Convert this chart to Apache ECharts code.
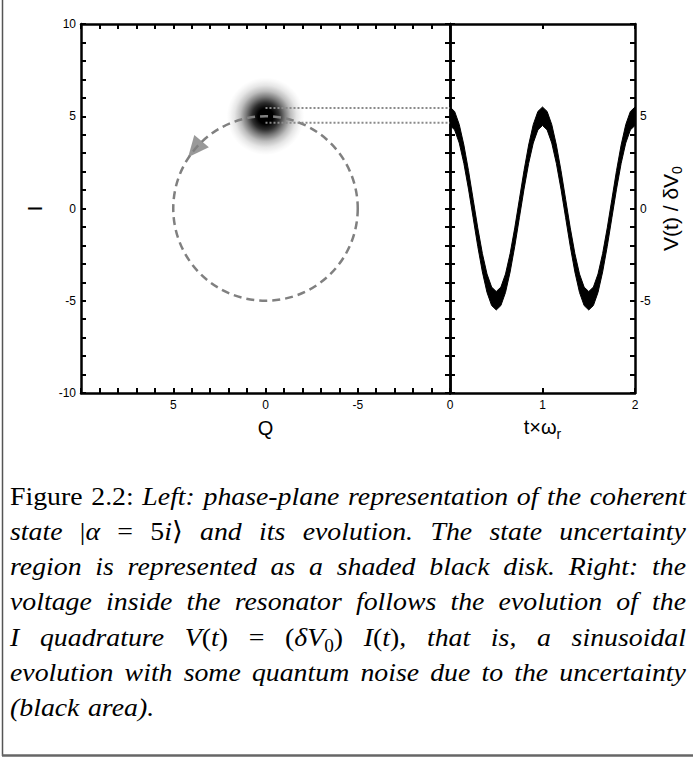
<!DOCTYPE html>
<html>
<head>
<meta charset="utf-8">
<title>Coherent state: phase plane and voltage</title>
<script src="https://cdn.jsdelivr.net/npm/echarts@6/dist/echarts.min.js"></script>
<style>
  html, body { margin: 0; padding: 0; background: #fff; }
  #chart { width: 693px; height: 757px; }
</style>
</head>
<body>
<div id="chart"></div>
<script>
// ---- Phase plane (left panel) ----
const qRange = [-10, 10];
const iRange = [-10, 10];
// Uncertainty disk of the coherent state |alpha = 5i>: [Q, I, halo radius]
const stateDisk = [0, 5, 2.1];
// Dashed orbit followed by the state: [Q centre, I centre, radius]
const orbit = [0, 0, 5];
// Arrow head on the orbit (Q, I)
const arrowPoint = [3.83, 3.22];
// Dotted guides at the upper and lower edges of the disk, running to the voltage panel
const guideLevels = [5.45, 4.65];
const guideQ = [0, -10];

// ---- Voltage trace (right panel) ----
const tRange = [0, 2];
const tValues = [0, 0.05, 0.1, 0.15, 0.2, 0.25, 0.3, 0.35, 0.4, 0.45, 0.5,
  0.55, 0.6, 0.65, 0.7, 0.75, 0.8, 0.85, 0.9, 0.95, 1,
  1.05, 1.1, 1.15, 1.2, 1.25, 1.3, 1.35, 1.4, 1.45, 1.5,
  1.55, 1.6, 1.65, 1.7, 1.75, 1.8, 1.85, 1.9, 1.95, 2];
// Upper and lower edges of the noisy trace V(t)/dV0
const vUpper = [5.5, 5.26, 4.55, 3.44, 2.05, 0.5, -1.05, -2.44, -3.55, -4.26, -4.5,
  -4.26, -3.55, -2.44, -1.05, 0.5, 2.05, 3.44, 4.55, 5.26, 5.5,
  5.26, 4.55, 3.44, 2.05, 0.5, -1.05, -2.44, -3.55, -4.26, -4.5,
  -4.26, -3.55, -2.44, -1.05, 0.5, 2.05, 3.44, 4.55, 5.26, 5.5];
const vLower = [4.5, 4.26, 3.55, 2.44, 1.05, -0.5, -2.05, -3.44, -4.55, -5.26, -5.5,
  -5.26, -4.55, -3.44, -2.05, -0.5, 1.05, 2.44, 3.55, 4.26, 4.5,
  4.26, 3.55, 2.44, 1.05, -0.5, -2.05, -3.44, -4.55, -5.26, -5.5,
  -5.26, -4.55, -3.44, -2.05, -0.5, 1.05, 2.44, 3.55, 4.26, 4.5];

// ---- Caption ----
// {r:...} upright, {s:...} upright subscript, everything else italic
const captionLines = [
  '{r:Figure} {r:2.2:} Left: phase-plane representation of the coherent',
  'state {r:|}α {r:=} {r:5}i{r:⟩} and its evolution. The state uncertainty',
  'region is represented as a shaded black disk. Right: the',
  'voltage inside the resonator follows the evolution of the',
  'I quadrature V{r:(}t{r:)} {r:=} {r:(}δV{s:0}{r:)} I{r:(}t{r:)}, that is, a sinusoidal',
  'evolution with some quantum noise due to the uncertainty',
  '(black area).'
];

const sans = "'Liberation Sans', Arial, Helvetica, sans-serif";
const serif = "'Liberation Serif', 'DejaVu Serif', serif";
const captionSize = 26;
const captionStretch = 1.07;   // widen the serif glyphs a little
const captionLeft = 10;
const captionRight = 686;
const captionBaseline = 505;
const captionLead = 35.2;

const measureCtx = document.createElement('canvas').getContext('2d');
function captionFont(kind) {
  if (kind === 'r') return captionSize + 'px ' + serif;
  if (kind === 's') return Math.round(captionSize * 0.7) + 'px ' + serif;
  return 'italic ' + captionSize + 'px ' + serif;
}
function parseWord(word) {
  const segs = [];
  const re = /\{([rs]):([^}]*)\}|([^{]+)/g;
  let m;
  while ((m = re.exec(word))) {
    if (m[1]) segs.push({ kind: m[1], text: m[2] });
    else segs.push({ kind: 'i', text: m[3] });
  }
  segs.forEach(function (s) {
    measureCtx.font = captionFont(s.kind);
    s.w = measureCtx.measureText(s.text).width * captionStretch;
  });
  return segs;
}

// Justified caption laid out word by word
const captionGraphics = [];
captionLines.forEach(function (line, li) {
  const words = line.split(' ').map(parseWord);
  const widths = words.map(function (ws) { return ws.reduce(function (a, s) { return a + s.w; }, 0); });
  const total = widths.reduce(function (a, b) { return a + b; }, 0);
  const isLast = li === captionLines.length - 1;
  measureCtx.font = captionFont('i');
  const gap = isLast ? measureCtx.measureText(' ').width * 1.3
    : (captionRight - captionLeft - total) / (words.length - 1);
  const base = captionBaseline + li * captionLead;
  let x = captionLeft;
  words.forEach(function (segs) {
    segs.forEach(function (s) {
      const sub = s.kind === 's';
      const size = sub ? captionSize * 0.7 : captionSize;
      captionGraphics.push({
        type: 'text',
        x: x,
        y: base + (sub ? captionSize * 0.22 : 0) - size * 0.34,
        scaleX: captionStretch,
        silent: true,
        style: {
          text: s.text, font: captionFont(s.kind), fill: '#000',
          align: 'left', verticalAlign: 'middle',
          textAlign: 'left', textVerticalAlign: 'middle'
        }
      });
      x += s.w;
    });
    x += gap;
  });
});

// Figure frame (left and bottom rules)
const frameGraphics = [
  { type: 'line', silent: true, shape: { x1: 2.5, y1: 0, x2: 2.5, y2: 756 },
    style: { stroke: '#555', lineWidth: 1.5 } },
  { type: 'line', silent: true, shape: { x1: 2, y1: 755.5, x2: 693, y2: 755.5 },
    style: { stroke: '#666', lineWidth: 2.5 } }
];

// ---- Axes ----
const axisLineStyle = { show: true, onZero: false, lineStyle: { color: '#000', width: 2.5 } };
const tickStyle = { show: true, inside: true, length: 5, lineStyle: { color: '#000', width: 2 } };
const minorStyle = { show: true, splitNumber: 5, length: 5, lineStyle: { color: '#000', width: 2 } };
const labelStyle = { show: true, color: '#000', fontSize: 12, fontFamily: sans, margin: 6 };
const noLabel = { show: false };

function valueAxis(extra) {
  return Object.assign({
    type: 'value',
    axisLine: axisLineStyle,
    axisTick: tickStyle,
    splitLine: { show: false },
    axisLabel: noLabel
  }, extra);
}

const subRich = {
  a: { fontSize: 20, fontFamily: sans, color: '#000', lineHeight: 24, verticalAlign: 'top' },
  sub: { fontSize: 14, fontFamily: sans, color: '#000', lineHeight: 14, padding: [13, 0, 0, 0], verticalAlign: 'bottom' }
};
const subRichV = {
  a: { fontSize: 21, fontFamily: sans, color: '#000', lineHeight: 24, verticalAlign: 'top' },
  sub: { fontSize: 14, fontFamily: sans, color: '#000', lineHeight: 14, padding: [13, 0, 0, 0], verticalAlign: 'bottom' }
};

const xAxes = [
  valueAxis({ gridIndex: 0, position: 'bottom', min: qRange[0], max: qRange[1], interval: 5, inverse: true,
    minorTick: minorStyle,
    axisLabel: Object.assign({}, labelStyle, { showMinLabel: false, showMaxLabel: false }),
    name: 'Q', nameLocation: 'middle', nameGap: 25,
    nameTextStyle: { fontSize: 20, fontFamily: sans, color: '#000' } }),
  valueAxis({ gridIndex: 0, position: 'top', min: qRange[0], max: qRange[1], interval: 5, inverse: true,
    minorTick: minorStyle }),
  valueAxis({ gridIndex: 1, position: 'bottom', min: tRange[0], max: tRange[1], interval: 1,
    axisLabel: labelStyle,
    name: '{a|t×ω}{sub|r}', nameLocation: 'middle', nameGap: 24,
    nameTextStyle: { rich: subRich } }),
  valueAxis({ gridIndex: 1, position: 'top', min: tRange[0], max: tRange[1], interval: 1 })
];

const yAxes = [
  valueAxis({ gridIndex: 0, position: 'left', min: iRange[0], max: iRange[1], interval: 5,
    minorTick: minorStyle,
    axisLabel: Object.assign({}, labelStyle, { margin: 5 }),
    name: 'I', nameLocation: 'middle', nameGap: 36,
    nameTextStyle: { fontSize: 20, fontFamily: sans, color: '#000' } }),
  valueAxis({ gridIndex: 0, position: 'right', min: iRange[0], max: iRange[1], interval: 5,
    minorTick: minorStyle }),
  valueAxis({ gridIndex: 1, position: 'left', min: iRange[0], max: iRange[1], interval: 5,
    minorTick: minorStyle }),
  valueAxis({ gridIndex: 1, position: 'right', min: iRange[0], max: iRange[1], interval: 5,
    minorTick: minorStyle,
    axisLabel: Object.assign({}, labelStyle, { margin: 5, showMinLabel: false, showMaxLabel: false }),
    name: '{a|V(t) / δV}{sub|0}', nameLocation: 'middle', nameGap: 25,
    nameTextStyle: { rich: subRichV } })
];

// ---- Series ----
const diskStops = [
  { offset: 0, color: 'rgba(0,0,0,1)' },
  { offset: 0.2, color: 'rgba(0,0,0,1)' },
  { offset: 0.35, color: 'rgba(0,0,0,0.82)' },
  { offset: 0.5, color: 'rgba(0,0,0,0.52)' },
  { offset: 0.65, color: 'rgba(0,0,0,0.26)' },
  { offset: 0.8, color: 'rgba(0,0,0,0.1)' },
  { offset: 0.92, color: 'rgba(0,0,0,0.03)' },
  { offset: 1, color: 'rgba(0,0,0,0)' }
];

const series = [
  {
    name: 'uncertainty disk', type: 'custom', xAxisIndex: 0, yAxisIndex: 0, z: 1, silent: true,
    data: [stateDisk],
    renderItem: function (params, api) {
      const c = api.coord([api.value(0), api.value(1)]);
      const r = api.size([api.value(2), 0])[0];
      return {
        type: 'circle',
        shape: { cx: c[0], cy: c[1], r: r },
        style: { fill: new echarts.graphic.RadialGradient(0.5, 0.5, 0.5, diskStops) }
      };
    }
  },
  {
    name: 'orbit', type: 'custom', xAxisIndex: 0, yAxisIndex: 0, z: 2, silent: true,
    data: [orbit],
    renderItem: function (params, api) {
      const c = api.coord([api.value(0), api.value(1)]);
      const r = api.size([api.value(2), 0])[0];
      return {
        type: 'circle',
        shape: { cx: c[0], cy: c[1], r: r },
        style: { fill: 'none', stroke: '#808080', lineWidth: 2.5, lineDash: [8, 5] }
      };
    }
  },
  {
    name: 'direction', type: 'scatter', xAxisIndex: 0, yAxisIndex: 0, z: 3, silent: true,
    data: [arrowPoint],
    symbol: 'triangle', symbolSize: [19, 21], symbolRotate: 140,
    itemStyle: { color: '#808080' }
  }
].concat(guideLevels.map(function (level) {
  return {
    type: 'line', xAxisIndex: 0, yAxisIndex: 0, z: 4, silent: true,
    data: guideQ.map(function (q) { return [q, level]; }),
    symbol: 'none',
    lineStyle: { color: '#8a8a8a', width: 2, type: [2, 2] }
  };
})).concat([
  {
    // Noisy voltage trace: filled region between the upper and lower edges
    name: 'voltage', type: 'custom', xAxisIndex: 2, yAxisIndex: 2, z: 2, silent: true, clip: true,
    data: [[tRange[0], 0]],
    renderItem: function (params, api) {
      const pts = tValues.map(function (t, i) { return api.coord([t, vUpper[i]]); });
      for (let i = tValues.length - 1; i >= 0; i--) {
        pts.push(api.coord([tValues[i], vLower[i]]));
      }
      return {
        type: 'polygon',
        shape: { points: pts },
        style: { fill: '#000', stroke: '#000', lineWidth: 1, lineJoin: 'round' }
      };
    }
  }
]);

const chart = echarts.init(document.getElementById('chart'), null, { renderer: 'svg' });
chart.setOption({
  animation: false,
  backgroundColor: '#fff',
  grid: [
    { left: 81, top: 24, width: 369, height: 369, outerBoundsMode: 'none' },
    { left: 450, top: 24, width: 185, height: 369, outerBoundsMode: 'none' }
  ],
  xAxis: xAxes,
  yAxis: yAxes,
  series: series,
  graphic: { elements: frameGraphics.concat(captionGraphics) }
});
</script>
</body>
</html>
